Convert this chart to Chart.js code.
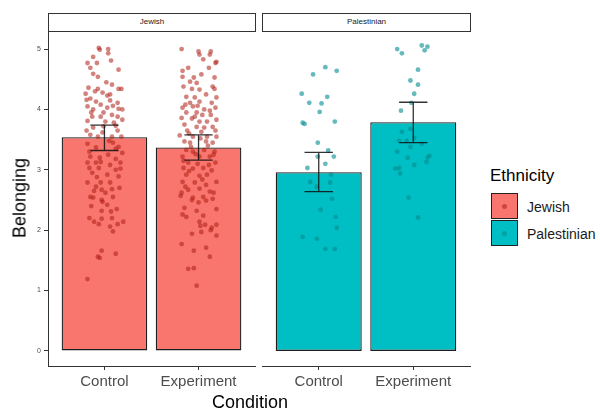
<!DOCTYPE html>
<html>
<head>
<meta charset="utf-8">
<script src="https://cdn.jsdelivr.net/npm/chart.js@4.4.1/dist/chart.umd.min.js"></script>
<style>
  html, body { margin:0; padding:0; background:#fff; }
  body { width:600px; height:410px; position:relative; overflow:hidden; font-family:"Liberation Sans", Arial, sans-serif; }
  canvas { position:absolute; top:0; }
  .strip { position:absolute; box-sizing:border-box; top:13px; height:19px; border:1.4px solid #333; background:#fff;
           font-size:8px; color:#1a1a1a; text-align:center; line-height:16px; }
  .title { position:absolute; font-size:18px; color:#000; white-space:nowrap; }
  .key { position:absolute; box-sizing:border-box; left:491px; width:27px; height:26px; border:1.5px solid #222; }
  .key span { position:absolute; left:50%; top:50%; width:5px; height:5px; margin:-2.5px 0 0 -2.5px; border-radius:50%; }
  .klab { position:absolute; left:527px; font-size:14px; color:#1a1a1a; white-space:nowrap; line-height:16px; }
</style>
</head>
<body>
<canvas id="c1" width="258" height="410" style="left:0px"></canvas>
<canvas id="c2" width="217" height="410" style="left:258px"></canvas>

<div class="strip" id="s1" style="left:48px;width:208px;"></div>
<div class="strip" id="s2" style="left:262px;width:209px;"></div>

<div class="title" id="ytitle" style="left:20px;top:198px;transform:translate(-50%,-50%) rotate(-90deg);"></div>
<div class="title" id="xtitle" style="left:250px;top:402px;transform:translate(-50%,-50%);"></div>

<div class="title" id="ltitle" style="left:490px;top:166px;font-size:17px;"></div>
<div class="key" style="top:193px;background:#F8766D;"><span style="background:rgba(175,30,20,0.55)"></span></div>
<div class="key" style="top:220px;background:#00BFC4;"><span style="background:rgba(0,140,145,0.6)"></span></div>
<div class="klab" id="lab1" style="top:199px;"></div>
<div class="klab" id="lab2" style="top:226px;"></div>

<script>
// ---------- data ----------
const categories = ['Control', 'Experiment'];
const facets = ['Jewish', 'Palestinian'];
const yTicks = [0, 1, 2, 3, 4, 5];

const jewishMeans = [3.54, 3.37];
const jewishLower = [3.32, 3.16];
const jewishUpper = [3.74, 3.58];

const palestinianMeans = [2.96, 3.79];
const palestinianLower = [2.64, 3.45];
const palestinianUpper = [3.29, 4.12];

// individual responses: [condition position with jitter, belonging]
const jewishControlPoints = [
[0.94,5.02],[0.95,4.99],[1.04,5.0],[1.04,4.93],[0.88,4.87],[1.07,4.81],[0.82,4.77],[0.92,4.77],[0.85,4.69],[1.15,4.66],
[0.88,4.59],[0.93,4.54],[0.83,4.36],[0.93,4.34],[1.08,4.41],[1.15,4.34],[1.18,4.34],[0.80,4.26],[0.98,4.28],[1.03,4.23],
[1.06,4.25],[0.81,4.16],[0.85,4.18],[0.91,4.13],[1.14,4.11],[0.96,4.08],[1.09,4.06],[0.82,4.05],[0.88,4.0],[1.03,4.03],
[1.15,4.01],[1.19,4.0],[0.99,3.95],[1.08,3.91],[0.87,3.88],[0.96,3.88],[1.14,3.88],[1.19,3.83],[0.82,3.81],[1.01,3.80],
[1.12,3.73],[0.88,3.70],[1.14,3.65],[0.85,3.58],[0.93,3.55],[1.08,3.55],[0.82,3.43],[1.15,3.38],[0.91,3.37],[1.09,3.45],
[1.04,3.25],[1.19,3.28],[0.85,3.22],[1.12,3.18],[0.96,3.13],[0.82,3.12],[0.91,3.12],[1.06,3.08],[1.17,3.12],[0.84,3.03],
[0.94,3.03],[1.12,3.0],[0.87,2.95],[1.03,2.92],[1.15,2.89],[0.82,2.79],[0.96,2.79],[1.06,2.79],[0.91,2.72],[1.16,2.70],
[1.01,2.62],[0.85,2.55],[1.09,2.55],[0.98,2.47],[1.03,2.42],[0.89,2.65],[0.97,2.67],[0.88,2.54],[0.97,2.5],[0.97,2.32],
[1.07,2.31],[0.84,2.2],[0.89,2.14],[0.94,2.1],[0.97,2.19],[1.08,2.2],[1.06,2.06],[1.09,1.98],[1.14,2.1],[1.2,2.14],
[0.97,1.66],[0.93,1.56],[0.95,1.54],[1.12,1.61],[0.82,1.19],
[0.86,3.95],[1.10,3.78],[0.98,3.62],[1.02,4.45],[0.90,4.30],[1.12,3.35],[0.84,3.30],[1.05,3.48],[0.95,3.20],[1.17,3.02],
[0.92,2.88],[1.08,2.68],[0.86,2.40],[1.13,2.35],[0.99,3.72],[1.06,4.15],[0.81,3.65],[1.18,3.55]
];
const jewishExperimentPoints = [
[1.82,5.0],[2.0,4.96],[2.13,4.96],[2.01,4.91],[2.12,4.91],[2.05,4.83],[2.19,4.79],[2.18,4.77],[1.89,4.69],[1.83,4.64],
[2.11,4.69],[1.83,4.54],[2.03,4.58],[1.95,4.53],[2.17,4.53],[1.91,4.46],[1.98,4.44],[1.84,4.38],[2.15,4.38],[1.93,4.34],
[2.01,4.33],[2.17,4.34],[1.87,4.21],[1.96,4.2],[2.08,4.25],[2.19,4.2],[1.91,4.11],[2.01,4.13],[2.14,4.11],[1.83,4.03],
[1.94,4.05],[1.99,4.06],[2.06,4.0],[2.18,4.03],[1.87,3.95],[1.98,3.95],[2.04,3.91],[2.13,3.91],[1.82,3.86],[1.93,3.85],
[2.01,3.8],[2.09,3.8],[2.19,3.83],[1.85,3.75],[1.98,3.71],[2.15,3.71],[1.88,3.65],[2.03,3.63],[2.18,3.65],[1.8,3.57],
[1.94,3.55],[2.09,3.55],[2.19,3.55],[1.85,3.47],[1.91,3.45],[2.08,3.47],[2.15,3.45],[1.87,3.33],[1.94,3.3],[2.06,3.33],
[2.17,3.3],[1.83,3.22],[2.01,3.22],[2.12,3.22],[1.89,3.12],[1.99,3.1],[2.18,3.12],[1.84,3.03],[1.94,3.02],[2.05,3.03],
[2.14,2.99],[1.87,2.92],[2.01,2.9],[2.09,2.92],[2.19,2.8],[1.83,2.8],[1.96,2.79],[2.08,2.75],[1.89,2.67],[2.01,2.69],
[2.12,2.64],[1.82,2.62],[1.94,2.54],[2.05,2.55],[2.15,2.52],[1.81,2.57],[1.93,2.50],[2.0,2.46],[2.08,2.49],[1.85,2.37],
[1.83,2.26],[1.87,2.22],[1.98,2.32],[2.05,2.24],[2.19,2.35],[2.01,2.14],[2.07,2.09],[2.02,2.07],[2.19,2.09],[2.14,2.04],
[2.13,2.0],[2.03,1.97],[1.93,1.94],[2.19,1.91],[1.82,1.77],[1.95,1.66],[2.08,1.71],[2.12,1.56],[1.89,1.36],[1.95,1.37],
[1.98,1.08],
[1.90,3.60],[2.10,3.40],[1.96,3.88],[2.06,3.70],[1.86,4.08],[2.12,3.98],[1.92,3.38],[2.02,3.52],[2.16,3.25],[1.84,3.15],
[1.97,3.26],[2.11,3.08],[1.9,2.98],[2.04,2.84],[1.86,2.72],[2.16,2.62]
];
const palestinianControlPoints = [
[1.07,4.70],[1.19,4.64],[0.94,4.58],[0.82,4.26],[1.09,4.21],[0.90,4.11],[1.03,4.10],[1.01,3.96],[0.83,3.78],[0.85,3.76],
[1.17,3.80],[0.99,3.45],[1.10,3.32],[0.99,3.22],[1.16,3.22],[1.07,3.10],[0.88,3.03],[1.13,2.92],[0.91,2.80],[1.12,2.79],
[0.98,2.72],[1.14,2.52],[1.02,2.34],[1.18,2.22],[1.19,2.04],[0.83,1.89],[0.98,1.86],[1.07,1.69],[1.17,1.69]
];
const palestinianExperimentPoints = [
[1.83,5.0],[1.88,4.93],[2.09,5.06],[2.15,5.04],[2.12,4.98],[2.05,4.66],[1.97,4.48],[2.05,4.41],[2.01,4.26],[1.98,4.11],
[1.87,3.98],[1.97,3.68],[1.88,3.63],[1.85,3.48],[1.93,3.48],[2.01,3.53],[1.97,3.38],[2.09,3.43],[1.83,3.30],[1.94,3.20],
[2.15,3.20],[2.17,3.23],[2.14,3.13],[2.01,3.08],[1.81,3.02],[1.85,3.03],[1.86,2.94],[1.95,2.54],[2.05,2.21]
];

// ---------- text ----------
document.getElementById('s1').textContent = facets[0];
document.getElementById('s2').textContent = facets[1];
document.getElementById('ytitle').textContent = 'Belonging';
document.getElementById('xtitle').textContent = 'Condition';
document.getElementById('ltitle').textContent = 'Ethnicity';
document.getElementById('lab1').textContent = facets[0];
document.getElementById('lab2').textContent = facets[1];

// ---------- error bar plugin ----------
const errorBars = {
  id: 'errorBars',
  afterDatasetsDraw(chart, args, opts) {
    const x = chart.scales.x, y = chart.scales.y, ctx = chart.ctx;
    ctx.save();
    ctx.strokeStyle = 'rgba(15,15,15,0.85)';
    ctx.lineWidth = 1.3;
    opts.lower.forEach((lo, i) => {
      const c = i + 1;
      const xl = x.getPixelForValue(c - 0.15), xr = x.getPixelForValue(c + 0.15), xc = x.getPixelForValue(c);
      const yl = y.getPixelForValue(lo), yu = y.getPixelForValue(opts.upper[i]);
      ctx.beginPath();
      ctx.moveTo(xl, yu); ctx.lineTo(xr, yu);
      ctx.moveTo(xl, yl); ctx.lineTo(xr, yl);
      ctx.moveTo(xc, yu); ctx.lineTo(xc, yl);
      ctx.stroke();
    });
    ctx.restore();
  }
};

function panel(id, means, lower, upper, pts, fill, ptColor, showY, pad) {
  return new Chart(document.getElementById(id), {
    type: 'bar',
    data: {
      datasets: [
        { type: 'scatter', order: 1, data: pts.map(p => ({ x: p[0], y: p[1] })),
          backgroundColor: ptColor, borderWidth: 0, pointRadius: 2.4, pointHoverRadius: 2.4 },
        { type: 'bar', order: 2, data: means.map((m, i) => ({ x: i + 1, y: m })),
          backgroundColor: fill, borderColor: '#1e1e1e', borderWidth: 1.3, borderSkipped: false,
          barPercentage: 0.91, categoryPercentage: 1 }
      ]
    },
    options: {
      responsive: false, animation: false,
      layout: { padding: pad },
      plugins: { legend: { display: false }, tooltip: { enabled: false },
                 errorBars: { lower: lower, upper: upper } },
      scales: {
        x: {
          type: 'linear', min: 0.4, max: 2.6, offset: false,
          afterBuildTicks: s => { s.ticks = categories.map((c, i) => ({ value: i + 1 })); },
          afterFit: s => { s.height = 44; },
          grid: { offset: false, drawOnChartArea: false, drawTicks: true, tickLength: 4, color: '#333', tickColor: '#333' },
          border: { display: true, color: '#333', width: 1 },
          ticks: { callback: v => categories[v - 1], font: { size: 15, family: 'Liberation Sans' },
                   color: '#4d4d4d', padding: 3, maxRotation: 0, autoSkip: false }
        },
        y: {
          type: 'linear', min: -0.25, max: 5.3, display: showY,
          afterBuildTicks: s => { s.ticks = yTicks.map(v => ({ value: v })); },
          afterFit: s => { s.width = showY ? 48 : 0; },
          grid: { drawOnChartArea: false, drawTicks: true, tickLength: 4, color: '#333', tickColor: '#333' },
          border: { display: true, color: '#333', width: 1 },
          ticks: { font: { size: 7, family: 'Liberation Sans' }, color: '#4d4d4d', padding: 3 }
        }
      }
    },
    plugins: [errorBars]
  });
}

panel('c1', jewishMeans, jewishLower, jewishUpper,
      jewishControlPoints.concat(jewishExperimentPoints),
      '#F8766D', 'rgba(175,30,20,0.55)', true, { left: 0, right: 3, top: 31, bottom: 0 });
panel('c2', palestinianMeans, palestinianLower, palestinianUpper,
      palestinianControlPoints.concat(palestinianExperimentPoints),
      '#00BFC4', 'rgba(0,140,145,0.6)', false, { left: 4, right: 5, top: 31, bottom: 0 });
</script>
</body>
</html>
